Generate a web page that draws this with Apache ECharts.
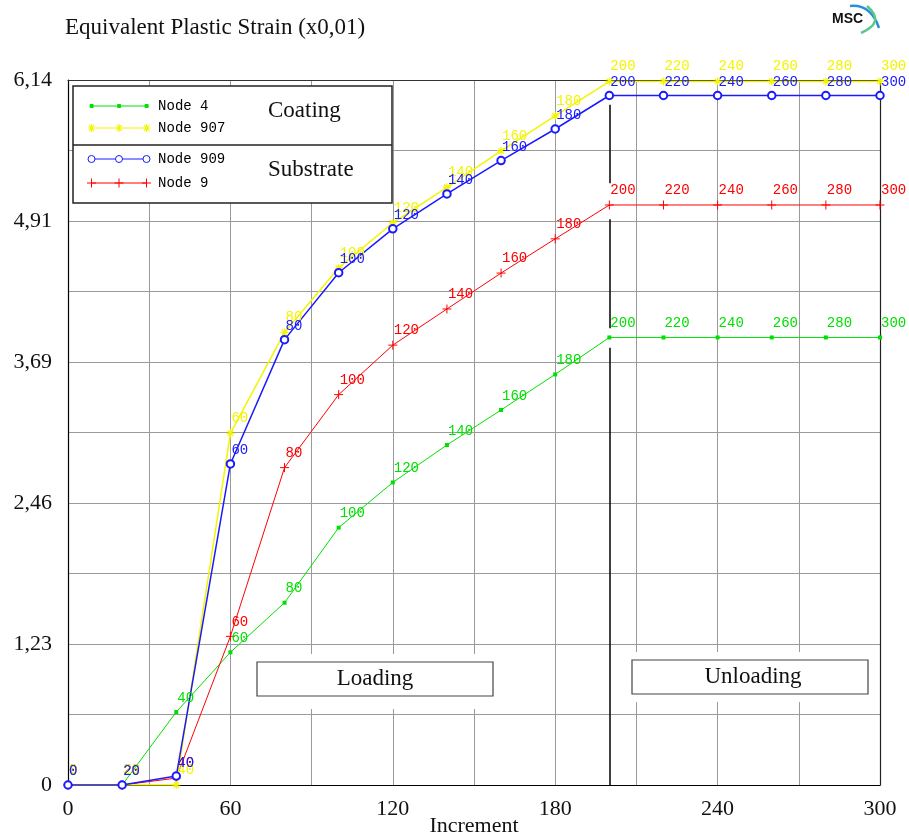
<!DOCTYPE html>
<html>
<head>
<meta charset="utf-8">
<title>Equivalent Plastic Strain</title>
<script src="https://cdn.jsdelivr.net/npm/echarts@6/dist/echarts.min.js"></script>
<style>
  html, body { margin: 0; padding: 0; background: #fff; }
  #chart { width: 909px; height: 840px; }
</style>
</head>
<body>
<div id="chart"></div>
<script>
// increments (x axis)
var increments = [0, 20, 40, 60, 80, 100, 120, 140, 160, 180, 200, 220, 240, 260, 280, 300];
// equivalent plastic strain (x0,01)
var node4   = [0, 0, 0.636, 1.156, 1.588, 2.242, 2.636, 2.962, 3.267, 3.577, 3.899, 3.899, 3.899, 3.899, 3.899, 3.899];
var node907 = [0, 0, 0, 3.064, 3.944, 4.505, 4.898, 5.207, 5.524, 5.830, 6.130, 6.130, 6.130, 6.130, 6.130, 6.130];
var node909 = [0, 0, 0.078, 2.797, 3.880, 4.463, 4.845, 5.149, 5.440, 5.715, 6.007, 6.007, 6.007, 6.007, 6.007, 6.007];
var node9   = [0, 0, 0.060, 1.295, 2.765, 3.401, 3.832, 4.147, 4.460, 4.758, 5.053, 5.053, 5.053, 5.053, 5.053, 5.053];

var yMax = 6.142;
var yTickLabels = ['0', '1,23', '2,46', '3,69', '4,91', '6,14'];
var xLabelStep = 60;
var unloadStart = 200;

var GREEN = '#00e000', YELLOW = '#f4f400', BLUE = '#1a1aff', RED = '#ff0000';

function pairs(vals) {
    return increments.map(function (x, i) { return [x, vals[i]]; });
}

// legend sample: a line with three markers
function legendIcon(kind) {
    var cs = [4.5, 32, 59.5], p = 'path://M0 0M64 9';
    if (kind === 'circle') {
        p += 'M8 4.5H28.5M35.5 4.5H56';
    } else {
        p += 'M4.5 4.5H59.5';
    }
    cs.forEach(function (c) {
        if (kind === 'rect') {
            p += 'M' + (c - 1.5) + ' 3h3v3h-3z';
        } else if (kind === 'star') {
            p += 'M' + (c - 4) + ' 4.5H' + (c + 4) + 'M' + c + ' 0.5V8.5' +
                 'M' + (c - 2.8) + ' 1.7L' + (c + 2.8) + ' 7.3M' + (c + 2.8) + ' 1.7L' + (c - 2.8) + ' 7.3';
        } else if (kind === 'circle') {
            p += 'M' + (c + 3.5) + ' 4.5A3.5 3.5 0 1 1 ' + (c - 3.5) + ' 4.5A3.5 3.5 0 1 1 ' + (c + 3.5) + ' 4.5';
        } else {
            p += 'M' + (c - 4.5) + ' 4.5H' + (c + 4.5) + 'M' + c + ' 0V9';
        }
    });
    return p;
}

var starSymbol = 'path://M0 4H8M4 0V8M1.2 1.2L6.8 6.8M6.8 1.2L1.2 6.8';
var plusSymbol = 'path://M0 4.5H9M4.5 0V9';

function pointLabel(color, dist) {
    return {
        show: true,
        position: 'top',
        align: 'left',
        distance: dist,
        offset: [1, 0],
        color: color,
        fontFamily: 'Liberation Mono',
        fontSize: 14,
        formatter: function (p) { return String(p.value[0]); }
    };
}

var myChart = echarts.init(document.getElementById('chart'));

var legendText = { fontFamily: 'Liberation Mono', fontSize: 14, color: '#000', padding: [0, 0, 0, 2], lineHeight: 16 };

myChart.setOption({
    animation: false,
    backgroundColor: '#fff',
    title: {
        text: 'Equivalent Plastic Strain (x0,01)',
        left: 65, top: 16, padding: 0,
        textStyle: { fontFamily: 'Liberation Serif', fontSize: 23, fontWeight: 'normal', color: '#111' }
    },
    grid: { left: 68, right: 29, top: 80, bottom: 55, outerBoundsMode: 'none' },
    legend: [{
        orient: 'vertical', left: 86.5, top: 98, padding: 0, itemGap: 6,
        itemWidth: 64, itemHeight: 9, z: 10, selectedMode: false,
        textStyle: legendText,
        data: [
            { name: 'Node 4', icon: legendIcon('rect'), itemStyle: { color: GREEN, borderColor: GREEN, borderWidth: 1 } },
            { name: 'Node 907', icon: legendIcon('star'), itemStyle: { color: YELLOW, borderColor: YELLOW, borderWidth: 1.2 } }
        ]
    }, {
        orient: 'vertical', left: 86.5, top: 151, padding: 0, itemGap: 8,
        itemWidth: 64, itemHeight: 9, z: 10, selectedMode: false,
        textStyle: legendText,
        data: [
            { name: 'Node 909', icon: legendIcon('circle'), itemStyle: { color: '#fff', borderColor: BLUE, borderWidth: 1 } },
            { name: 'Node 9', icon: legendIcon('plus'), itemStyle: { color: RED, borderColor: RED, borderWidth: 1 } }
        ]
    }],
    xAxis: [{
        type: 'value', min: 0, max: 300, interval: 30,
        name: 'Increment', nameLocation: 'middle', nameGap: 30, nameMoveOverlap: false,
        nameTextStyle: { fontFamily: 'Liberation Serif', fontSize: 22, color: '#111', lineHeight: 22 },
        axisLine: { show: true, lineStyle: { color: '#000', width: 1.2 } },
        axisTick: { show: false },
        axisLabel: {
            margin: 13, fontFamily: 'Liberation Serif', fontSize: 22, color: '#111',
            formatter: function (v) { return v % xLabelStep === 0 ? String(v) : ''; }
        },
        splitLine: { show: true, showMinLine: false, showMaxLine: false, lineStyle: { color: '#9a9a9a', width: 1 } }
    }, {
        type: 'value', min: 0, max: 300, position: 'top',
        axisLine: { show: true, onZero: false, lineStyle: { color: '#333', width: 1 } },
        axisTick: { show: false }, axisLabel: { show: false }, splitLine: { show: false }, z: 3
    }],
    yAxis: [{
        type: 'value', min: 0, max: yMax, interval: yMax / 10,
        axisLine: { show: true, lineStyle: { color: '#000', width: 1.2 } },
        axisTick: { show: false },
        axisLabel: {
            margin: 16, fontFamily: 'Liberation Serif', fontSize: 22, color: '#111',
            formatter: function (v) {
                var i = Math.round(v / (yMax / 10));
                return i % 2 === 0 ? yTickLabels[i / 2] : '';
            }
        },
        splitLine: { show: true, showMinLine: false, showMaxLine: false, lineStyle: { color: '#9a9a9a', width: 1 } }
    }, {
        type: 'value', min: 0, max: yMax, position: 'right',
        axisLine: { show: true, onZero: false, lineStyle: { color: '#222', width: 1.2 } },
        axisTick: { show: false }, axisLabel: { show: false }, splitLine: { show: false }, z: 3
    }],
    series: [{
        name: 'Node 4', type: 'line', data: pairs(node4),
        symbol: 'rect', symbolSize: 4,
        itemStyle: { color: GREEN, borderColor: GREEN, borderWidth: 0 },
        lineStyle: { color: GREEN, width: 1 },
        label: pointLabel(GREEN, 5)
    }, {
        name: 'Node 9', type: 'line', data: pairs(node9),
        symbol: plusSymbol, symbolSize: 9,
        itemStyle: { color: RED, borderColor: RED, borderWidth: 1 },
        lineStyle: { color: RED, width: 1 },
        label: pointLabel(RED, 2.5)
    }, {
        name: 'Node 907', type: 'line', data: pairs(node907),
        symbol: starSymbol, symbolSize: 8,
        itemStyle: { color: YELLOW, borderColor: YELLOW, borderWidth: 1.2 },
        lineStyle: { color: YELLOW, width: 1.5 },
        label: pointLabel(YELLOW, 3)
    }, {
        name: 'Node 909', type: 'line', data: pairs(node909),
        symbol: 'emptyCircle', symbolSize: 7.5,
        itemStyle: { color: BLUE, borderColor: BLUE, borderWidth: 1 },
        lineStyle: { color: BLUE, width: 1.5 },
        label: pointLabel(BLUE, 1.5),
        markLine: {
            silent: true, symbol: ['none', 'none'], label: { show: false },
            lineStyle: { color: '#000', width: 1.5, type: 'solid' },
            emphasis: { disabled: true },
            // boundary between loading and unloading, broken where the labels sit
            data: [
                [{ coord: [unloadStart, node909[10] - 0.08] }, { coord: [unloadStart, node9[10] + 0.19] }],
                [{ coord: [unloadStart, node9[10] - 0.125] }, { coord: [unloadStart, node4[10] + 0.08] }],
                [{ coord: [unloadStart, node4[10] - 0.09] }, { coord: [unloadStart, 0] }]
            ]
        }
    }],
    graphic: [
        // legend frame
        { type: 'rect', z: 9, shape: { x: 73, y: 86, width: 319, height: 117 },
          style: { fill: '#fff', stroke: '#222', lineWidth: 1.5 } },
        { type: 'line', z: 9, shape: { x1: 73, y1: 145, x2: 392, y2: 145 },
          style: { stroke: '#222', lineWidth: 1.5 } },
        { type: 'text', z: 11, x: 268, y: 111,
          style: { text: 'Coating', font: '23px "Liberation Serif"', fill: '#111', verticalAlign: 'middle' } },
        { type: 'text', z: 11, x: 268, y: 170,
          style: { text: 'Substrate', font: '23px "Liberation Serif"', fill: '#111', verticalAlign: 'middle' } },
        // phase boxes
        { type: 'rect', z: 8, shape: { x: 249, y: 654, width: 252, height: 55 }, style: { fill: '#fff' } },
        { type: 'rect', z: 9, shape: { x: 257, y: 662, width: 236, height: 34 },
          style: { fill: '#fff', stroke: '#444', lineWidth: 1.2 } },
        { type: 'text', z: 10, x: 375, y: 679,
          style: { text: 'Loading', font: '23px "Liberation Serif"', fill: '#111', align: 'center', verticalAlign: 'middle' } },
        { type: 'rect', z: 8, shape: { x: 624, y: 652, width: 252, height: 50 }, style: { fill: '#fff' } },
        { type: 'rect', z: 9, shape: { x: 632, y: 660, width: 236, height: 34 },
          style: { fill: '#fff', stroke: '#444', lineWidth: 1.2 } },
        { type: 'text', z: 10, x: 753, y: 677,
          style: { text: 'Unloading', font: '23px "Liberation Serif"', fill: '#111', align: 'center', verticalAlign: 'middle' } },
        // MSC logo
        { type: 'text', z: 10, x: 832, y: 12,
          style: { text: 'MSC', font: 'bold 14px "Liberation Sans"', fill: '#111' } },
        { type: 'bezierCurve', z: 10, shape: { x1: 850, y1: 6, cpx1: 871, cpy1: 4, x2: 879, y2: 28 },
          style: { fill: 'none', stroke: '#2a8fd8', lineWidth: 2.5 } },
        { type: 'bezierCurve', z: 10, shape: { x1: 861, y1: 33, cpx1: 886, cpy1: 22, x2: 867, y2: 6 },
          style: { fill: 'none', stroke: '#59c98a', lineWidth: 2.5 } }
    ]
});
</script>
</body>
</html>
